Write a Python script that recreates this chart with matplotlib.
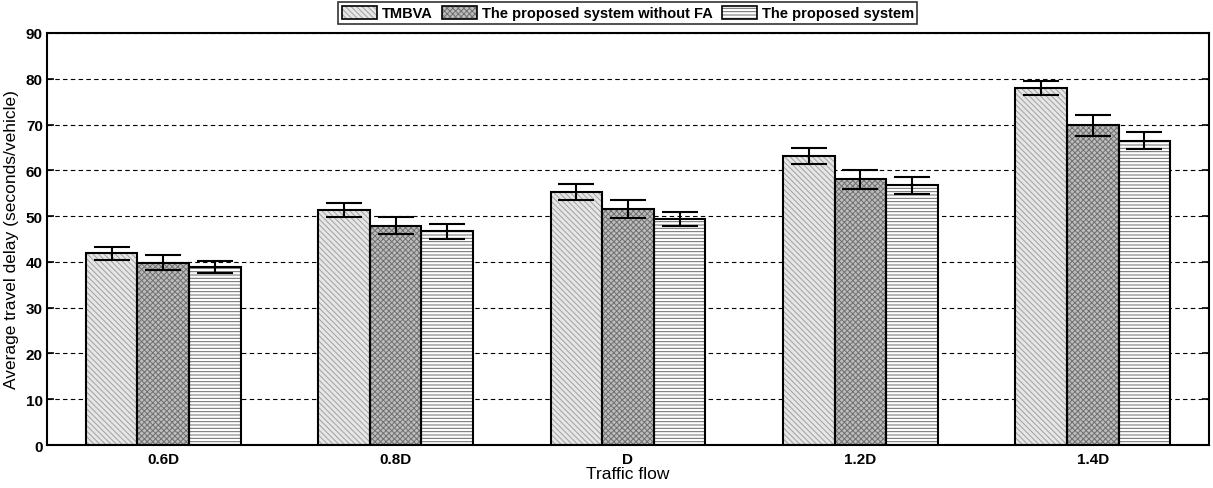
import numpy as np
import matplotlib
matplotlib.use('Agg')
import matplotlib.pyplot as plt
from matplotlib.patches import Patch

plt.rcParams.update({'font.family': ['Liberation Sans', 'DejaVu Sans'],
                     'hatch.linewidth': 0.7})

# data
categories = ['0.6D', '0.8D', 'D', '1.2D', '1.4D']
series_names = ['TMBVA', 'The proposed system without FA', 'The proposed system']
tmbva = [41.9, 51.3, 55.3, 63.1, 78.0]
no_fa = [39.8, 47.9, 51.6, 58.0, 69.8]
proposed = [38.9, 46.7, 49.3, 56.7, 66.5]
err_tmbva = [1.4, 1.55, 1.8, 1.8, 1.6]
err_no_fa = [1.65, 1.8, 2.0, 2.1, 2.3]
err_proposed = [1.35, 1.6, 1.5, 1.85, 1.95]

values = [tmbva, no_fa, proposed]
errors = [err_tmbva, err_no_fa, err_proposed]
faces = ['#e6e6e6', '#bdbdbd', 'white']
hatches = ['\\\\\\\\\\\\', 'xxxxxx', '-----']
hatch_cols = ['#a0a0a0', '#707070', '#6a6a6a']

fig = plt.figure(figsize=(12.13, 4.89), dpi=100)
ax = fig.add_axes([0.0387, 0.0879, 0.958, 0.8426])

x = np.arange(1, len(categories) + 1)
w = 0.222
handles = []
for i in range(3):
    pos = x + (i - 1) * w
    # hatch layer, then black outline on top
    ax.bar(pos, values[i], w, color=faces[i], hatch=hatches[i], edgecolor=hatch_cols[i], linewidth=0, zorder=2)
    ax.bar(pos, values[i], w, fill=False, edgecolor='black', linewidth=1.5, zorder=3)
    ax.errorbar(pos, values[i], yerr=errors[i], fmt='none', ecolor='black', elinewidth=1.5,
                capsize=13, capthick=1.5, zorder=4)
    handles.append((Patch(facecolor=faces[i], hatch=hatches[i], edgecolor=hatch_cols[i], linewidth=0),
                    Patch(fill=False, edgecolor='black', linewidth=1.2)))

ax.set_xlim(0.5, 5.5)
ax.set_ylim(0, 90)
ax.set_yticks(np.arange(0, 91, 10))
ax.set_xticks(x)
ax.set_xticklabels(categories)
ax.yaxis.grid(True, linestyle=(0, (4, 3)), color='black', linewidth=0.8)
ax.set_axisbelow(True)
ax.tick_params(axis='y', direction='in', length=5, width=1.2, right=True, labelsize=11, pad=3)
ax.tick_params(axis='x', length=0, labelsize=11, pad=5)
for lab in ax.get_xticklabels() + ax.get_yticklabels():
    lab.set_fontweight('bold')
for s in ax.spines.values():
    s.set_linewidth(1.5)

ax.set_xlabel('Traffic flow', fontsize=12.5, labelpad=0)
ax.set_ylabel('Average travel delay (seconds/vehicle)', fontsize=12.5, labelpad=5)

leg = ax.legend(handles, series_names, ncol=3, loc='upper center', bbox_to_anchor=(0.5, 1.075),
                frameon=True, fancybox=False, edgecolor='black', handlelength=2.4, handleheight=1.0,
                handletextpad=0.35, columnspacing=0.6, borderpad=0.25, borderaxespad=0,
                prop={'size': 10.5, 'weight': 'bold'})
leg.get_frame().set_linewidth(1.2)

fig.savefig('out.png', dpi=100)
